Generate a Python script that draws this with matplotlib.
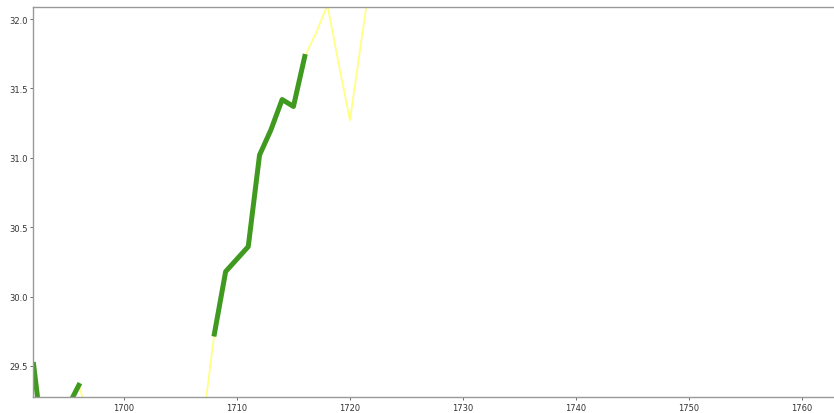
import numpy as np
import matplotlib
matplotlib.use('Agg')
import matplotlib.pyplot as plt

# yearly series (values below ~29.27 fall off the bottom of the view)
years = list(range(1692, 1723))
values = [29.51, 28.84, 28.70, 29.20, 29.36, 29.10, 28.95, 28.90, 29.00, 28.85,
          28.95, 29.05, 28.90, 29.00, 28.95, 29.09, 29.73, 30.18, 30.27, 30.36,
          31.02, 31.20, 31.42, 31.37, 31.73, 31.90, 32.10, 31.68, 31.27, 31.84,
          32.40]

# years highlighted in green
green_years = [1692, 1693, 1695, 1696, 1708, 1709, 1710, 1711, 1712, 1713,
               1714, 1715, 1716]

yrs = np.array(years)
vals = np.array(values)
green = np.where(np.isin(yrs, green_years), vals, np.nan)

fig = plt.figure(figsize=(8.34, 4.14), dpi=100)
ax = fig.add_axes([33 / 834, 16 / 414, 809 / 834, 390 / 414])

ax.plot(yrs, vals, color='#ffff66', lw=1.3, alpha=0.8)
ax.plot(yrs, green, color='#3f9a1f', lw=3.6)

ax.set_xlim(1691.95, 1763.55)
ax.set_ylim(29.276, 32.087)
ax.set_xticks(range(1700, 1761, 10))
ax.set_yticks([29.5, 30.0, 30.5, 31.0, 31.5, 32.0])
ax.tick_params(labelsize=6, length=2.5, width=0.6, pad=1.5, colors='#555555',
               labelcolor='#333333')
for s in ax.spines.values():
    s.set_color('#999999')
    s.set_linewidth(1.0)

fig.savefig('out.png', dpi=100)
